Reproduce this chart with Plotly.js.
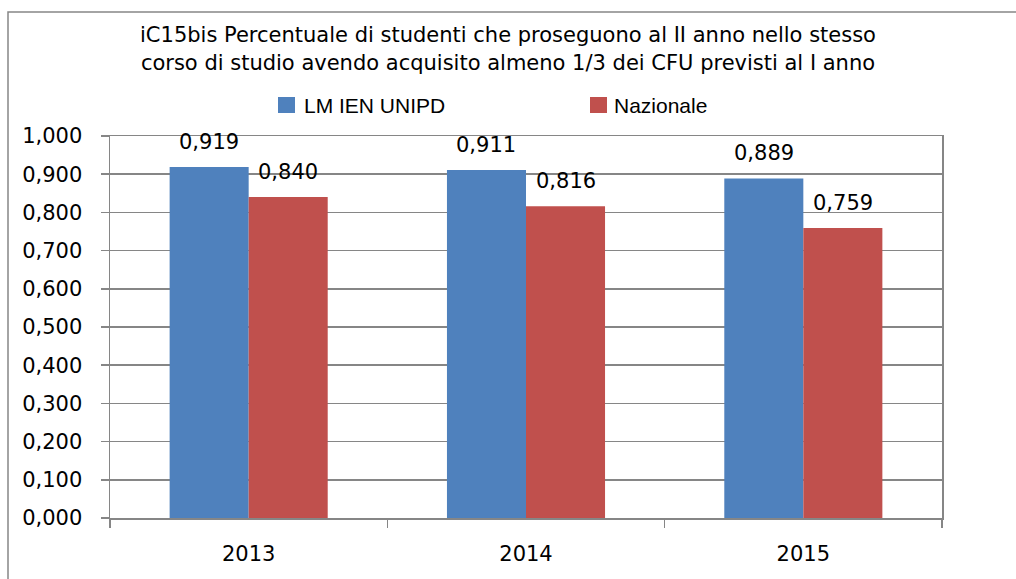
<!DOCTYPE html>
<html>
<head>
<meta charset="utf-8">
<script src="https://cdn.plot.ly/plotly-3.0.1.min.js"></script>
<style>html,body{margin:0;padding:0;background:#fff;}#chart{width:1016px;height:579px;}</style>
</head>
<body>
<div id="chart"></div>
<script>
var categories = ['2013', '2014', '2015'];
var seriesNames = ['LM IEN UNIPD', 'Nazionale'];
var valuesUnipd = [0.919, 0.911, 0.889];
var valuesNazionale = [0.840, 0.816, 0.759];
var yTickValues = [0, 0.1, 0.2, 0.3, 0.4, 0.5, 0.6, 0.7, 0.8, 0.9, 1.0];
var titleLines = ['iC15bis Percentuale di studenti che proseguono al II anno nello stesso',
                  'corso di studio avendo acquisito almeno 1/3 dei CFU previsti al I anno'];

var colors = ['#4F81BD', '#C0504D'];
var gridColor = '#868686';
var FONT = 'DejaVu Sans, sans-serif';
var LFONT = 'Liberation Sans, Arial, sans-serif';
var W = 1016, H = 579;
var M = {l: 110, r: 74, t: 136, b: 61};
var pw = W - M.l - M.r, ph = H - M.t - M.b;
var bargap = 0.43;

var seriesValues = [valuesUnipd, valuesNazionale];

function fmt(v) { return v.toFixed(3).replace('.', ','); }

var traces = seriesValues.map(function (vals, i) {
  return {
    type: 'bar', name: seriesNames[i], x: categories, y: vals,
    marker: {color: colors[i], line: {width: 0}},
    hoverinfo: 'none', showlegend: false
  };
});

var catPx = pw / categories.length;
var barPx = catPx * (1 - bargap) / 2;

var annotations = [];
seriesValues.forEach(function (vals, i) {
  vals.forEach(function (v, j) {
    annotations.push({
      xref: 'x', yref: 'y', x: j, y: v,
      text: fmt(v), showarrow: false, yanchor: 'bottom', xanchor: 'center',
      xshift: (i === 0 ? -1 : 1) * barPx / 2, yshift: 11,
      font: {family: FONT, size: 21, color: '#000'}
    });
  });
});

// custom legend
function px2x(px) { return (px - M.l) / pw; }
function py2y(py) { return (M.t + ph - py) / ph; }
var legendItems = [{sq: 278, txt: 302}, {sq: 590, txt: 612}];
var shapes = [];
legendItems.forEach(function (it, i) {
  shapes.push({type: 'rect', xref: 'paper', yref: 'paper',
    x0: px2x(it.sq), x1: px2x(it.sq + 17), y0: py2y(113), y1: py2y(97),
    fillcolor: colors[i], line: {width: 0}});
  annotations.push({xref: 'paper', yref: 'paper', x: px2x(it.txt), y: py2y(105),
    xanchor: 'left', yanchor: 'middle', text: seriesNames[i], showarrow: false,
    font: {family: LFONT, size: 21, color: '#000'}});
});
// outer chart border
shapes.push({type: 'rect', xref: 'paper', yref: 'paper',
  x0: px2x(8), x1: px2x(W + 10), y0: py2y(H + 10), y1: py2y(12),
  fillcolor: 'rgba(0,0,0,0)', line: {color: gridColor, width: 1.5}, layer: 'above'});

var layout = {
  width: W, height: H,
  margin: M,
  paper_bgcolor: '#fff', plot_bgcolor: '#fff',
  separators: ',.',
  barmode: 'group', bargap: bargap, bargroupgap: 0,
  showlegend: false,
  font: {family: FONT, size: 21, color: '#000'},
  title: {
    text: titleLines.join('<br>'),
    font: {family: FONT, size: 21, color: '#000'},
    xref: 'container', x: 0.5, xanchor: 'center',
    yref: 'container', y: 0.927, yanchor: 'top'
  },
  xaxis: {
    type: 'category', categoryorder: 'array', categoryarray: categories,
    range: [-0.5, categories.length - 0.5],
    showline: true, linecolor: gridColor, linewidth: 1.5, mirror: true,
    ticks: 'outside', tickson: 'boundaries', ticklen: 8, tickcolor: gridColor, tickwidth: 1.5,
    tickfont: {family: FONT, size: 21, color: '#000'}, ticklabelstandoff: 16,
    tickangle: 0,
    showgrid: false, zeroline: false, fixedrange: true
  },
  yaxis: {
    range: [0, 1], tickvals: yTickValues, tickformat: '.3f',
    showline: true, linecolor: gridColor, linewidth: 1.5, mirror: true,
    ticks: 'outside', ticklen: 8, tickcolor: gridColor, tickwidth: 1.5,
    tickfont: {family: FONT, size: 21, color: '#000'}, ticklabelstandoff: 14,
    showgrid: true, gridcolor: gridColor, gridwidth: 1.5, zeroline: false, fixedrange: true
  },
  annotations: annotations,
  shapes: shapes
};

Plotly.newPlot('chart', traces, layout, {displayModeBar: false, staticPlot: true});
</script>
</body>
</html>
